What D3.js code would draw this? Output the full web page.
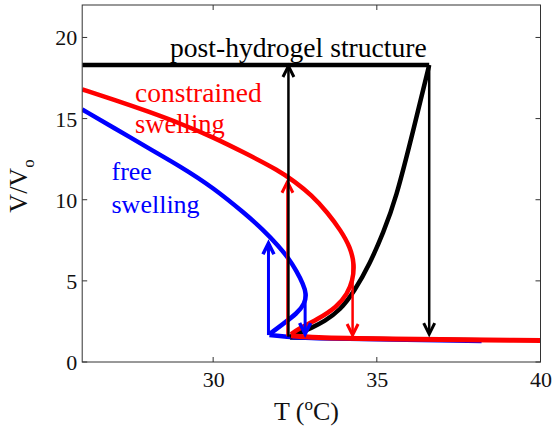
<!DOCTYPE html>
<html><head><meta charset="utf-8">
<script src="https://cdn.jsdelivr.net/npm/d3@7"></script>
</head><body style="margin:0;background:#fff"><svg id="c" width="553" height="427" style="display:block"></svg>
<script>
// ---- data ----
const xTicks = [30, 35, 40];
const yTicks = [0, 5, 10, 15, 20];
// post-hydrogel structure (black)
const blackTop = [[26, 18.3], [36.6, 18.3]];
const blackCurve = [[32.35, 1.55], [32.66, 1.8], [33.0, 2.1], [33.4, 2.5], [33.88, 3.2], [34.3, 4.3], [34.8, 6.1], [35.2, 8.0], [35.57, 9.94], [36.13, 14.4], [36.6, 18.3]];
const blackFlat = [[32.35, 1.5], [38.2, 1.35]];
// constrained swelling (red): upper branch, nose, lower branch
const redCurve = [[26, 16.8], [27, 16.15], [28, 15.45], [29, 14.7], [30, 13.85], [31, 12.85], [32, 11.8], [32.5, 11.1], [33, 10.3], [33.5, 9.2], [33.9, 8.1], [34.19, 7.07], [34.32, 6.0], [34.26, 5.0], [34.1, 4.2], [33.78, 3.39], [33.17, 2.6], [32.56, 2.0], [32.38, 1.7]];
const redFlat = [[32.38, 1.62], [33, 1.5], [35, 1.42], [40, 1.32]];
// free swelling (blue)
const blueCurve = [[26, 15.56], [27, 14.4], [28, 13.2], [29, 12.05], [30, 10.75], [31, 9.1], [31.5, 8.2], [32, 7.15], [32.3, 6.4], [32.55, 5.6], [32.75, 4.8], [32.85, 4.2], [32.8, 3.6], [32.56, 2.99], [32.15, 2.37], [31.72, 1.72]];
const blueFlat = [[31.72, 1.66], [32.2, 1.55], [33, 1.45], [38.2, 1.3]];
// arrows: x, from, to
const blackArrows = [{x: 32.3, from: 1.55, to: 18.3}, {x: 36.6, from: 18.3, to: 1.66}];
const redArrows = [{x: 32.27, from: 1.6, to: 11.17}, {x: 34.26, from: 6.5, to: 1.6}];
const blueArrows = [{x: 31.69, from: 1.66, to: 7.38}, {x: 32.81, from: 4.3, to: 1.66}];
// annotation texts
const labels = [
  {text: "post-hydrogel structure", x: 170, y: 56.5, size: 27.6, color: "#000000"},
  {text: "constrained", x: 135, y: 101.5, size: 27.5, color: "#ff0000"},
  {text: "swelling", x: 135, y: 133, size: 26.5, color: "#ff0000"},
  {text: "free", x: 111.5, y: 180, size: 26, color: "#0000ff"},
  {text: "swelling", x: 111.5, y: 213, size: 26, color: "#0000ff"}
];

// ---- chart ----
const FONT = "'Liberation Serif', 'Times New Roman', serif";
const svg = d3.select("#c");
const L = 82.2, R = 540.5, T = 5, B = 362;
const x = d3.scaleLinear().domain([26, 40]).range([L, R]);
const y = d3.scaleLinear().domain([0, 22]).range([B, T]);

const smooth = d3.line().x(d => x(d[0])).y(d => y(d[1])).curve(d3.curveBasis);
const lin = d3.line().x(d => x(d[0])).y(d => y(d[1]));

const g = svg.append("g");
g.append("clipPath").attr("id", "clip").append("rect").attr("x", L).attr("y", T).attr("width", R - L).attr("height", B - T);
const pg = g.append("g").attr("clip-path", "url(#clip)");

function curve(data, color, w, isSmooth = true) {
  pg.append("path").datum(data).attr("d", isSmooth ? smooth : lin)
    .attr("fill", "none").attr("stroke", color).attr("stroke-width", w)
    .attr("stroke-linejoin", "round").attr("stroke-linecap", "butt");
}
curve(blackFlat, "#000", 4, false);
curve(blueFlat, "#0000ff", 4.5);
curve(blackTop, "#000", 4.5, false);
curve(blackCurve, "#000", 4.5);
curve(blueCurve, "#0000ff", 4.5);
curve(redCurve, "#ff0000", 4.5);
curve(redFlat, "#ff0000", 5);

function arrow(a, color, w) {
  const x0 = x(a.x), y0 = y(a.from), y1 = y(a.to);
  const dir = y1 < y0 ? 1 : -1; // 1 = pointing up
  pg.append("line").attr("x1", x0).attr("x2", x0).attr("y1", y0).attr("y2", y1 + dir * 2)
    .attr("stroke", color).attr("stroke-width", w);
  const hl = 12, hw = 5.5;
  pg.append("path")
    .attr("d", `M${x0 - hw},${y1 + dir * hl} L${x0},${y1 + dir * 1} L${x0 + hw},${y1 + dir * hl}`)
    .attr("fill", "none").attr("stroke", color).attr("stroke-width", w + 0.5)
    .attr("stroke-linejoin", "miter").attr("stroke-linecap", "butt");
}
blueArrows.forEach(a => arrow(a, "#0000ff", 3));
redArrows.forEach(a => arrow(a, "#ff0000", 2.5));
blackArrows.forEach(a => arrow(a, "#000", 2.5));

// frame
g.append("rect").attr("x", L).attr("y", T).attr("width", R - L).attr("height", B - T)
  .attr("fill", "none").attr("stroke", "#333").attr("stroke-width", 1);

// ticks (inward, mirrored)
const tl = 5;
xTicks.forEach(t => {
  g.append("line").attr("x1", x(t)).attr("x2", x(t)).attr("y1", B).attr("y2", B - tl).attr("stroke", "#333");
  g.append("line").attr("x1", x(t)).attr("x2", x(t)).attr("y1", T).attr("y2", T + tl).attr("stroke", "#333");
});
yTicks.forEach(t => {
  g.append("line").attr("x1", L).attr("x2", L + tl).attr("y1", y(t)).attr("y2", y(t)).attr("stroke", "#333");
  g.append("line").attr("x1", R).attr("x2", R - tl).attr("y1", y(t)).attr("y2", y(t)).attr("stroke", "#333");
});

// tick labels via d3 axes
const xAxis = d3.axisBottom(x).tickValues(xTicks).tickSize(0).tickPadding(0).tickFormat(d3.format("d"));
const gx = g.append("g").attr("transform", `translate(0,${B})`).call(xAxis);
gx.select(".domain").remove();
gx.selectAll("text").style("font-family", FONT).style("font-size", "22px").attr("fill", "#111").attr("dy", "25px");
const yAxis = d3.axisLeft(y).tickValues(yTicks).tickSize(0).tickPadding(5).tickFormat(d3.format("d"));
const gy = g.append("g").attr("transform", `translate(${L},0)`).call(yAxis);
gy.select(".domain").remove();
gy.selectAll("text").style("font-family", FONT).style("font-size", "22px").attr("fill", "#111").attr("dy", "0.34em");

// axis titles
const xt = svg.append("text").attr("x", 306.5).attr("y", 420).attr("text-anchor", "middle")
  .style("font-family", FONT).style("font-size", "26px").attr("fill", "#111");
xt.append("tspan").text("T (");
xt.append("tspan").style("font-size", "17px").attr("dy", -10).text("o");
xt.append("tspan").attr("dy", 10).text("C)");
const yt = svg.append("text").attr("transform", `translate(27,186) rotate(-90)`).attr("text-anchor", "middle")
  .style("font-family", FONT).style("font-size", "26px").attr("fill", "#111");
yt.append("tspan").text("V/V");
yt.append("tspan").style("font-size", "17px").attr("dy", 7).text("o");

// annotations
const ag = svg.append("g").attr("font-family", "Liberation Serif");
labels.forEach(d => {
  ag.append("text").attr("x", d.x).attr("y", d.y)
    .style("font-family", FONT).style("font-size", d.size + "px").attr("fill", d.color)
    .append("tspan").style("font-family", FONT).text(d.text);
});
</script></body></html>
